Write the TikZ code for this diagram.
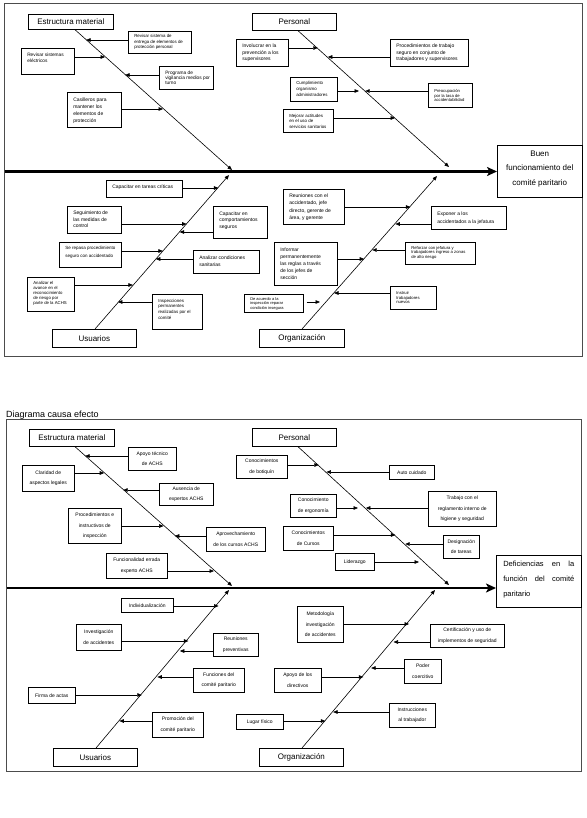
\documentclass[tikz,border=0pt]{standalone}
\usepackage{fontspec}
\setmainfont{Liberation Sans}
\usetikzlibrary{arrows.meta}
\newcommand\BoxTL[4]{\parbox[b][\dimexpr#2pt-6pt\relax][t]{\dimexpr#1pt-4pt\relax}{\raggedright\leftskip=4pt\rule{0pt}{#3pt}#4}}
\newcommand\BoxCC[3]{\parbox[b][\dimexpr#2pt-6pt\relax][c]{\dimexpr#1pt-4pt\relax}{\centering #3}}
\newcommand\BoxTC[4]{\parbox[b][\dimexpr#2pt-6pt\relax][t]{\dimexpr#1pt-4pt\relax}{\centering\rule{0pt}{#3pt}#4}}
\newcommand\BoxJS[4]{\parbox[b][\dimexpr#2pt-6pt\relax][t]{\dimexpr#1pt-4pt\relax}{\leftskip=5pt\rightskip=5pt\rule{0pt}{#3pt}#4}}
\begin{document}
\begin{tikzpicture}[x=1pt,y=-1pt,
  cb/.style={draw=black, line width=0.55pt, anchor=north west, inner xsep=2pt, inner ysep=3pt},
  cat/.style={draw=black, line width=0.7pt, anchor=north west, inner sep=0pt, font=\fontsize{8}{9}\selectfont},
  sz/.style 2 args={minimum width=#1pt, minimum height=#2pt},
  fs/.style 2 args={font=\fontsize{#1}{#2}\selectfont},
  frame/.style={draw=black!70, line width=0.8pt},
  spine/.style={line width=2.4pt, -{Stealth[length=10pt,width=9pt,inset=2.5pt]}},
  bone/.style={line width=0.6pt, -{Triangle[length=4.5pt,width=3.6pt]}}
]
\fill[white] (0,0) rectangle (586,818);
\useasboundingbox (0,0) rectangle (586,818);

%================ TOP DIAGRAM =================
\draw[frame] (4.5,3.5) rectangle (582,356);
\node[cat, sz={85}{15}] (A1) at (28,14) {Estructura material};
\node[cat, sz={84}{17}] (A2) at (252,13) {Personal};
\node[cat, sz={84}{18}] (A3) at (52,329) {Usuarios};
\node[cat, sz={85}{18}] (A4) at (259,329) {Organización};
\node[cb, fs={8}{14.5}] (E1) at (497,145) {\BoxTC{85}{52}{8}{Buen\\funcionamiento del\\comité paritario}};
\coordinate (S1) at (4.5,171.5);
\draw[spine] (S1) -- (E1.west |- S1);

\coordinate (A1x) at (75,0);  \coordinate (B1) at (232,170);
\coordinate (A2x) at (298,0); \coordinate (B2) at (449,167);
\coordinate (A3x) at (95,0);  \coordinate (B3) at (229,175);
\coordinate (A4x) at (302,0); \coordinate (B4) at (437,176);
\draw[bone] (A1.south -| A1x) -- (B1);
\draw[bone] (A2.south -| A2x) -- (B2);
\draw[bone] (A3.north -| A3x) -- (B3);
\draw[bone] (A4.north -| A4x) -- (B4);

% Estructura material
\node[cb, fs={4.4}{5.3}] (N1) at (128,31) {\BoxTL{63}{22}{3.5}{Revisar sistema de\\entrega de elementos de\\protección personal}};
\coordinate (P1) at (86.1,40); \draw[bone] (N1.west |- P1) -- (P1);
\node[cb, fs={4.8}{5.5}] (N2) at (21,48) {\BoxTL{53}{26}{5.5}{Revisar sistemas\\eléctricos}};
\coordinate (P2) at (105.1,57); \draw[bone] (N2.east |- P2) -- (P2);
\node[cb, fs={4.8}{5.3}] (N3) at (159,66) {\BoxTL{54}{23}{5}{Programa de\\vigilancia medios por\\turno}};
\coordinate (P3) at (125.1,75); \draw[bone] (N3.west |- P3) -- (P3);
\node[cb, fs={5}{7}] (N4) at (67,92) {\BoxTL{54}{35}{6}{Casilleros para\\mantener los\\elementos de\\protección}};
\coordinate (P4) at (163,109); \draw[bone] (N4.east |- P4) -- (P4);

% Personal
\node[cb, fs={5}{6.3}] (N5) at (236,39) {\BoxTL{52}{27}{5.5}{Involucrar en la\\prevención a los\\supervisores}};
\coordinate (P5) at (317.8,48); \draw[bone] (N5.east |- P5) -- (P5);
\node[cb, fs={5}{6.6}] (N6) at (390,39) {\BoxTL{78}{27}{5.5}{Procedimientos de trabajo\\seguro en conjunto de\\trabajadores y supervisores}};
\coordinate (P6) at (327.8,57); \draw[bone] (N6.west |- P6) -- (P6);
\node[cb, fs={4.4}{5.8}] (N7) at (290,77) {\BoxTL{47}{24}{4.5}{Cumplimiento\\organismo\\administradores}};
\coordinate (Q7) at (359,91); \draw[bone] (N7.east |- Q7) -- (Q7);
\node[cb, fs={4.2}{4.8}] (N8) at (428,83) {\BoxTL{44}{24}{6}{Preocupación\\por la tasa de\\accidentabilidad}};
\coordinate (P8) at (365.2,91); \draw[bone] (N8.west |- P8) -- (P8);
\node[cb, fs={4.4}{5.2}] (N9) at (283,109) {\BoxTL{50}{23}{5.5}{Mejorar actitudes\\en el uso de\\servicios sanitarios}};
\coordinate (P9) at (395.1,118); \draw[bone] (N9.east |- P9) -- (P9);

% Usuarios
\node[cb, fs={5}{6}] (N10) at (106,180) {\BoxTL{76}{17}{5}{Capacitar en tareas críticas}};
\coordinate (P10) at (218.4,188); \draw[bone] (N10.east |- P10) -- (P10);
\node[cb, fs={5}{6.8}] (N11) at (67,206) {\BoxTL{54}{27}{5}{Seguimiento de\\las medidas de\\control}};
\coordinate (P11) at (186.7,224); \draw[bone] (N11.east |- P11) -- (P11);
\node[cb, fs={5}{6.7}] (N12) at (213,206) {\BoxTL{54}{32}{6}{Capacitar en\\comportamientos\\seguros}};
\coordinate (P12) at (179.6,232); \draw[bone] (N12.west |- P12) -- (P12);
\node[cb, fs={4.5}{7.4}] (N13) at (59,242) {\BoxTL{62}{25}{4.5}{Se repasa procedimiento\\seguro con accidentado}};
\coordinate (P13) at (162.9,251); \draw[bone] (N13.east |- P13) -- (P13);
\node[cb, fs={5}{6.5}] (N14) at (193,250) {\BoxTL{66}{23}{6.5}{Analizar condiciones\\sanitarias}};
\coordinate (P14) at (155.8,259); \draw[bone] (N14.west |- P14) -- (P14);
\node[cb, fs={4.3}{5}] (N15) at (27,277) {\BoxTL{47}{34}{4}{Analizar el\\avance en el\\reconocimiento\\de riesgo por\\parte de la ACHS}};
\coordinate (P15) at (132.9,285); \draw[bone] (N15.east |- P15) -- (P15);
\node[cb, fs={4.4}{5.6}] (N16) at (152,294) {\BoxTL{50}{35}{5}{Inspecciones\\permanentes\\realizadas por el\\comité}};
\coordinate (P16) at (117.9,302); \draw[bone] (N16.west |- P16) -- (P16);

% Organizacion
\node[cb, fs={5}{7.2}] (N17) at (283,189) {\BoxTL{61}{35}{5.5}{Reuniones con el\\accidentado, jefe\\directo, gerente de\\área, y gerente}};
\coordinate (P17) at (410.4,207); \draw[bone] (N17.east |- P17) -- (P17);
\node[cb, fs={5}{8.5}] (N18) at (431,206) {\BoxTL{75}{23}{6}{Exponer a los\\accidentados a la jefatura}};
\coordinate (P18) at (395.3,224); \draw[bone] (N18.west |- P18) -- (P18);
\node[cb, fs={5}{7}] (N19) at (274,242) {\BoxTL{63}{43}{6}{Informar\\permanentemente\\las reglas a través\\de los jefes de\\sección}};
\coordinate (P19) at (364.2,259); \draw[bone] (N19.east |- P19) -- (P19);
\node[cb, fs={4.2}{4.6}] (N20) at (405,242) {\BoxTL{70}{22}{4}{Reforzar con jefatura y\\trabajadores ingreso a zonas\\de alto riesgo}};
\coordinate (P20) at (372.2,250); \draw[bone] (N20.west |- P20) -- (P20);
\node[cb, fs={4}{4.4}] (N21) at (244,294) {\BoxTL{59}{18}{3.2}{De acuerdo a la\\inspección reparar\\condición insegura}};
\coordinate (Q21) at (320,302); \draw[bone, shorten <=3pt] (N21.east |- Q21) -- (Q21);
\node[cb, fs={4.2}{4.8}] (N22) at (390,286) {\BoxTL{46}{23}{5}{Instruir\\trabajadores\\nuevos}};
\coordinate (P22) at (334,293); \draw[bone] (N22.west |- P22) -- (P22);

%================ BOTTOM DIAGRAM =================
\node[anchor=base west, inner sep=0pt, font=\fontsize{9}{11}\selectfont] (T) at (6,417) {Diagrama causa efecto};
\draw[frame] (6.5,419) rectangle (581,771);
\node[cat, sz={85}{17}] (C1) at (29,429) {Estructura material};
\node[cat, sz={84}{18}] (C2) at (252,428) {Personal};
\node[cat, sz={84}{18}] (C3) at (53,748) {Usuarios};
\node[cat, sz={84}{18}] (C4) at (259,748) {Organización};
\node[cb, fs={7.5}{15}] (E2) at (496,555) {\BoxJS{85}{52}{8.7}{Deficiencias\hfill en\hfill la\\función\hfill del\hfill comité\\paritario}};
\coordinate (S2) at (6.5,588);
\draw[spine] (S2) -- (E2.west |- S2);

\coordinate (C1x) at (75,0);  \coordinate (D1) at (232,586);
\coordinate (C2x) at (298,0); \coordinate (D2) at (449,585);
\coordinate (C3x) at (96,0);  \coordinate (D3) at (229,590);
\coordinate (C4x) at (302,0); \coordinate (D4) at (435,590);
\draw[bone] (C1.south -| C1x) -- (D1);
\draw[bone] (C2.south -| C2x) -- (D2);
\draw[bone] (C3.north -| C3x) -- (D3);
\draw[bone] (C4.north -| C4x) -- (D4);

% Estructura material
\node[cb, fs={5}{10.5}] (M1) at (128,447) {\BoxCC{48}{23}{Apoyo técnico\\de ACHS}};
\coordinate (R1) at (85.1,456); \draw[bone] (M1.west |- R1) -- (R1);
\node[cb, fs={5}{10.5}] (M2) at (22,465) {\BoxCC{52}{26}{Claridad de\\aspectos legales}};
\coordinate (R2) at (104.2,473); \draw[bone] (M2.east |- R2) -- (R2);
\node[cb, fs={5}{10.5}] (M3) at (159,483) {\BoxCC{54}{22}{Ausencia de\\expertos ACHS}};
\coordinate (R3) at (123.2,490); \draw[bone] (M3.west |- R3) -- (R3);
\node[cb, fs={5}{10.5}] (M4) at (68,508) {\BoxCC{53}{35}{Procedimientos e\\instructivos de\\inspección}};
\coordinate (R4) at (163.6,526); \draw[bone] (M4.east |- R4) -- (R4);
\node[cb, fs={5}{10.5}] (M5) at (206,527) {\BoxCC{59}{24}{Aprovechamiento\\de los cursos ACHS}};
\coordinate (R5) at (174.8,536); \draw[bone] (M5.west |- R5) -- (R5);
\node[cb, fs={5}{10.5}] (M6) at (106,553) {\BoxCC{61}{25}{Funcionalidad errada\\experto ACHS}};
\coordinate (R6) at (214,571); \draw[bone] (M6.east |- R6) -- (R6);

% Personal
\node[cb, fs={5}{10.5}] (M7) at (236,455) {\BoxCC{51}{23}{Conocimientos\\de botiquín}};
\coordinate (R7) at (318.8,465); \draw[bone] (M7.east |- R7) -- (R7);
\node[cb, fs={5}{10.5}] (M8) at (389,465) {\BoxCC{45}{14}{Auto cuidado}};
\coordinate (R8) at (326.4,472); \draw[bone] (M8.west |- R8) -- (R8);
\node[cb, fs={5}{10.5}] (M9) at (290,494) {\BoxCC{46}{23}{Conocimiento\\de ergonomía}};
\coordinate (Q9) at (358,508); \draw[bone] (M9.east |- Q9) -- (Q9);
\node[cb, fs={5}{10.5}] (M10) at (428,491) {\BoxCC{68}{35}{Trabajo con el\\reglamento interno de\\higiene y seguridad}};
\coordinate (R10) at (365.8,508); \draw[bone] (M10.west |- R10) -- (R10);
\node[cb, fs={5}{10.5}] (M11) at (283,526) {\BoxCC{50}{24}{Conocimientos\\de Cursos}};
\coordinate (R11) at (395.4,535); \draw[bone] (M11.east |- R11) -- (R11);
\node[cb, fs={5}{10.5}] (M12) at (443,535) {\BoxCC{36}{23}{Designación\\de tareas}};
\coordinate (R12) at (405.2,544); \draw[bone] (M12.west |- R12) -- (R12);
\node[cb, fs={5}{10.5}] (M13) at (335,553) {\BoxCC{39}{17}{Liderazgo}};
\coordinate (Q13) at (419,562); \draw[bone] (M13.east |- Q13) -- (Q13);

% Usuarios
\node[cb, fs={5}{10.5}] (M14) at (121,598) {\BoxCC{52}{14}{Individualización}};
\coordinate (R14) at (218.6,606); \draw[bone] (M14.east |- R14) -- (R14);
\node[cb, fs={5}{10.5}] (M15) at (76,624) {\BoxCC{45}{26}{Investigación\\de accidentes}};
\coordinate (R15) at (188.4,641); \draw[bone] (M15.east |- R15) -- (R15);
\node[cb, fs={5}{10.5}] (M16) at (213,633) {\BoxCC{45}{23}{Reuniones\\preventivas}};
\coordinate (R16) at (179.8,651); \draw[bone] (M16.west |- R16) -- (R16);
\node[cb, fs={5}{10.5}] (M17) at (193,668) {\BoxCC{51}{24}{Funciones del\\comité paritario}};
\coordinate (R17) at (157.3,677); \draw[bone] (M17.west |- R17) -- (R17);
\node[cb, fs={5}{10.5}] (M18) at (28,687) {\BoxCC{47}{16}{Firma de actas}};
\coordinate (R18) at (141.8,695); \draw[bone] (M18.east |- R18) -- (R18);
\node[cb, fs={5}{10.5}] (M19) at (152,712) {\BoxCC{51}{25}{Promoción del\\comité paritario}};
\coordinate (R19) at (119.3,721); \draw[bone] (M19.west |- R19) -- (R19);

% Organizacion
\node[cb, fs={5}{10.5}] (M20) at (297,606) {\BoxCC{46}{36}{Metodología\\investigación\\de accidentes}};
\coordinate (R20) at (409.1,624); \draw[bone] (M20.east |- R20) -- (R20);
\node[cb, fs={5}{10.5}] (M21) at (430,624) {\BoxCC{74}{23}{Certificación y uso de\\implementos de seguridad}};
\coordinate (R21) at (393.5,642); \draw[bone] (M21.west |- R21) -- (R21);
\node[cb, fs={5}{10.5}] (M22) at (404,659) {\BoxCC{37}{24}{Poder\\coercitivo}};
\coordinate (R22) at (371.1,668); \draw[bone] (M22.west |- R22) -- (R22);
\node[cb, fs={5}{10.5}] (M23) at (274,668) {\BoxCC{47}{24}{Apoyo de los\\directivos}};
\coordinate (R23) at (363.3,677); \draw[bone] (M23.east |- R23) -- (R23);
\node[cb, fs={5}{10.5}] (M24) at (389,703) {\BoxCC{46}{24}{Instrucciones\\al trabajador}};
\coordinate (R24) at (333.1,712); \draw[bone] (M24.west |- R24) -- (R24);
\node[cb, fs={5}{10.5}] (M25) at (236,714) {\BoxCC{47}{15}{Lugar físico}};
\coordinate (R25) at (325.3,721); \draw[bone] (M25.east |- R25) -- (R25);
\end{tikzpicture}
\end{document}
